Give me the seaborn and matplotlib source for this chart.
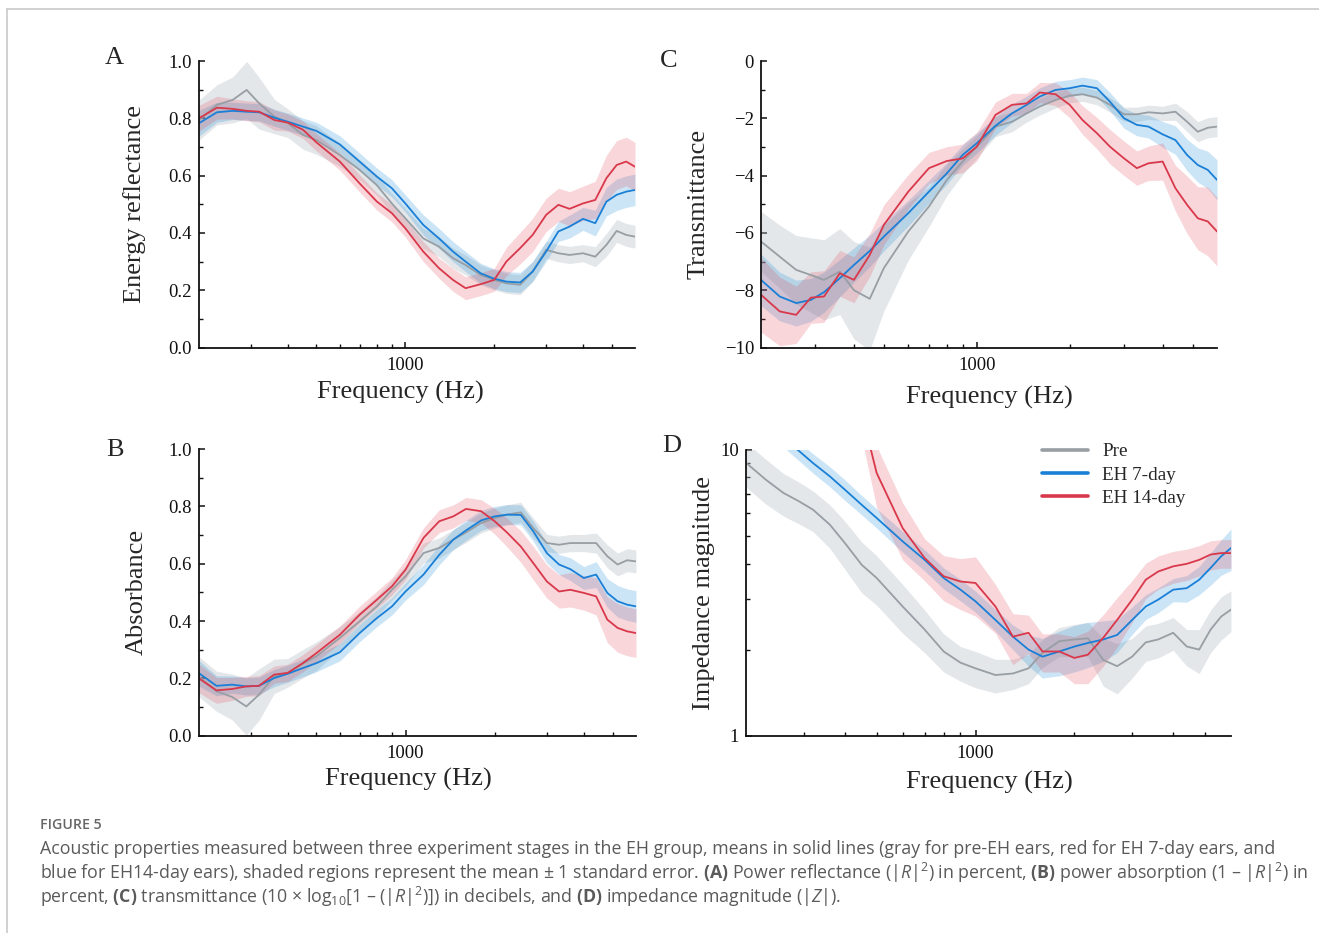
import numpy as np
import pandas as pd
import matplotlib
matplotlib.use("Agg")
import matplotlib.pyplot as plt
import seaborn as sns
from matplotlib.ticker import FixedLocator, NullFormatter
from matplotlib.lines import Line2D

# ---------------- data ----------------
FREQ = [200, 230, 260, 290, 320, 360, 400, 450, 500, 600, 700, 800, 900, 1000,
        1150, 1300, 1450, 1600, 1800, 2000, 2200, 2450, 2700, 3000, 3300, 3600,
        4000, 4400, 4800, 5200, 5600, 6000]

SERIES = ["Pre", "EH 7-day", "EH 14-day"]

# Panel A - energy reflectance
A_PRE = [0.794, 0.847, 0.864, 0.899, 0.852, 0.806, 0.783, 0.742, 0.724, 0.672, 0.620, 0.567,
         0.503, 0.451, 0.381, 0.352, 0.312, 0.288, 0.253, 0.236, 0.224, 0.219, 0.265, 0.341,
         0.329, 0.323, 0.329, 0.317, 0.358, 0.407, 0.393, 0.387]
A_EH7 = [0.783, 0.821, 0.826, 0.823, 0.821, 0.802, 0.788, 0.771, 0.756, 0.709, 0.649, 0.597,
         0.556, 0.503, 0.428, 0.381, 0.335, 0.300, 0.259, 0.240, 0.230, 0.227, 0.265, 0.335,
         0.405, 0.422, 0.449, 0.434, 0.509, 0.533, 0.544, 0.550]
A_EH14 = [0.800, 0.837, 0.833, 0.826, 0.823, 0.794, 0.785, 0.760, 0.716, 0.649, 0.573, 0.510,
          0.469, 0.416, 0.335, 0.277, 0.236, 0.207, 0.221, 0.236, 0.300, 0.347, 0.393, 0.463,
          0.498, 0.484, 0.503, 0.515, 0.591, 0.637, 0.649, 0.631]
A_PRE_SE = [0.07, 0.07, 0.08, 0.10, 0.09, 0.06, 0.05, 0.05, 0.05, 0.04, 0.035, 0.035, 0.035,
            0.035, 0.035, 0.035, 0.035, 0.035, 0.035, 0.035, 0.035, 0.035, 0.035, 0.03, 0.03,
            0.03, 0.03, 0.035, 0.04, 0.04, 0.04, 0.04]
A_EH7_SE = [0.045, 0.035, 0.03, 0.03, 0.03, 0.03, 0.03, 0.03, 0.03, 0.03, 0.03, 0.03, 0.03,
            0.03, 0.035, 0.035, 0.035, 0.035, 0.035, 0.035, 0.035, 0.035, 0.035, 0.035, 0.035,
            0.04, 0.04, 0.045, 0.05, 0.055, 0.055, 0.055]
A_EH14_SE = [0.045, 0.04, 0.035, 0.035, 0.035, 0.035, 0.03, 0.03, 0.03, 0.03, 0.03, 0.03, 0.03,
             0.03, 0.035, 0.035, 0.04, 0.04, 0.04, 0.04, 0.05, 0.055, 0.058, 0.058, 0.058, 0.06,
             0.06, 0.065, 0.08, 0.085, 0.085, 0.085]

# Panel B - absorbance
B_PRE = [0.207, 0.155, 0.135, 0.102, 0.143, 0.207, 0.219, 0.251, 0.277, 0.341, 0.399, 0.451,
         0.509, 0.556, 0.637, 0.655, 0.684, 0.709, 0.742, 0.759, 0.771, 0.779, 0.724, 0.672,
         0.666, 0.672, 0.672, 0.672, 0.626, 0.597, 0.612, 0.608]
B_EH7 = [0.219, 0.174, 0.178, 0.172, 0.174, 0.201, 0.216, 0.236, 0.253, 0.291, 0.358, 0.410,
         0.451, 0.503, 0.562, 0.631, 0.684, 0.716, 0.751, 0.765, 0.771, 0.770, 0.713, 0.637,
         0.597, 0.581, 0.550, 0.562, 0.498, 0.469, 0.457, 0.451]
B_EH14 = [0.201, 0.158, 0.163, 0.172, 0.174, 0.213, 0.219, 0.253, 0.288, 0.352, 0.422, 0.474,
          0.521, 0.579, 0.690, 0.748, 0.765, 0.791, 0.783, 0.748, 0.709, 0.660, 0.602, 0.538,
          0.503, 0.509, 0.498, 0.486, 0.405, 0.376, 0.364, 0.358]
B_PRE_SE = A_PRE_SE
B_EH7_SE = A_EH7_SE
B_EH14_SE = [0.05, 0.045, 0.04, 0.035, 0.035, 0.03, 0.03, 0.03, 0.03, 0.03, 0.03, 0.03, 0.03,
             0.035, 0.035, 0.04, 0.04, 0.04, 0.04, 0.045, 0.05, 0.055, 0.058, 0.058, 0.058,
             0.06, 0.06, 0.065, 0.08, 0.085, 0.085, 0.085]

# Panel C - transmittance (dB)
C_PRE = [-6.30, -6.83, -7.29, -7.47, -7.64, -7.35, -8.00, -8.30, -7.23, -5.95, -5.08, -4.15,
         -3.51, -2.99, -2.29, -2.12, -1.83, -1.59, -1.36, -1.21, -1.16, -1.28, -1.53, -1.86,
         -1.86, -1.79, -1.83, -1.77, -2.12, -2.47, -2.33, -2.29]
C_EH7 = [-7.64, -8.22, -8.45, -8.34, -8.07, -7.58, -7.12, -6.63, -6.13, -5.31, -4.56, -3.92,
         -3.28, -2.87, -2.26, -1.83, -1.53, -1.24, -1.01, -0.95, -0.86, -0.95, -1.42, -2.00,
         -2.23, -2.29, -2.56, -2.76, -3.28, -3.63, -3.80, -4.15]
C_EH14 = [-8.16, -8.74, -8.86, -8.26, -8.22, -7.41, -7.64, -6.77, -5.72, -4.56, -3.74, -3.49,
          -3.40, -2.99, -1.88, -1.53, -1.48, -1.10, -1.16, -1.53, -2.06, -2.52, -2.99, -3.40,
          -3.74, -3.57, -3.51, -4.44, -5.02, -5.49, -5.60, -5.95]
C_PRE_SE = [1.05, 1.1, 1.2, 1.3, 1.4, 1.5, 1.7, 1.8, 1.5, 1.0, 0.7, 0.55, 0.45, 0.4, 0.35, 0.35,
            0.3, 0.3, 0.28, 0.25, 0.25, 0.25, 0.25, 0.25, 0.25, 0.25, 0.25, 0.3, 0.35, 0.35,
            0.35, 0.35]
C_EH7_SE = [0.9, 0.85, 0.8, 0.75, 0.7, 0.65, 0.6, 0.55, 0.5, 0.45, 0.4, 0.38, 0.36, 0.35, 0.33,
            0.32, 0.3, 0.3, 0.3, 0.3, 0.3, 0.3, 0.32, 0.35, 0.38, 0.4, 0.45, 0.5, 0.55, 0.6,
            0.65, 0.7]
C_EH14_SE = [1.3, 1.2, 1.0, 0.9, 0.9, 0.8, 0.8, 0.75, 0.7, 0.6, 0.55, 0.5, 0.5, 0.5, 0.45, 0.4,
             0.35, 0.35, 0.4, 0.45, 0.5, 0.55, 0.6, 0.6, 0.6, 0.6, 0.65, 0.8, 1.0, 1.1, 1.2, 1.2]

# Panel D - impedance magnitude
D_PRE = [9.0, 7.85, 7.06, 6.60, 6.17, 5.47, 4.72, 3.96, 3.56, 2.83, 2.35, 1.97, 1.80, 1.72,
         1.63, 1.65, 1.72, 1.95, 2.14, 2.17, 2.19, 1.84, 1.75, 1.89, 2.12, 2.17, 2.29, 2.05,
         2.00, 2.35, 2.61, 2.76]
D_EH7 = [14.0, 12.3, 11.0, 9.9, 8.98, 8.07, 7.25, 6.42, 5.77, 4.78, 4.12, 3.56, 3.24, 2.95,
         2.54, 2.22, 2.00, 1.89, 1.97, 2.05, 2.11, 2.17, 2.25, 2.54, 2.83, 2.99, 3.24, 3.28,
         3.51, 3.86, 4.24, 4.53]
D_EH14 = [40.0, 38.0, 35.0, 32.0, 29.0, 25.0, 20.0, 13.5, 8.29, 5.32, 4.18, 3.61, 3.46, 3.42,
          2.83, 2.22, 2.29, 1.97, 1.97, 1.87, 1.92, 2.20, 2.54, 2.99, 3.51, 3.75, 3.91, 3.99,
          4.12, 4.30, 4.35, 4.35]
D_PRE_SE = [1.6, 1.4, 1.2, 1.1, 1.0, 0.95, 0.9, 0.8, 0.7, 0.55, 0.4, 0.3, 0.25, 0.25, 0.22,
            0.2, 0.2, 0.22, 0.25, 0.28, 0.3, 0.35, 0.35, 0.3, 0.3, 0.3, 0.3, 0.3, 0.35, 0.4,
            0.45, 0.45]
D_EH7_SE = [1.0, 0.9, 0.8, 0.75, 0.7, 0.65, 0.6, 0.5, 0.45, 0.4, 0.35, 0.3, 0.28, 0.25, 0.22,
            0.22, 0.25, 0.3, 0.35, 0.38, 0.38, 0.35, 0.3, 0.28, 0.28, 0.3, 0.3, 0.35, 0.4, 0.5,
            0.6, 0.75]
D_EH14_SE = [3, 3, 3, 3, 3, 3, 3, 2.5, 2.0, 1.2, 0.7, 0.65, 0.7, 0.8, 0.55, 0.45, 0.35, 0.3,
             0.3, 0.35, 0.4, 0.45, 0.5, 0.5, 0.5, 0.5, 0.5, 0.5, 0.5, 0.5, 0.5, 0.5]

# ---------------- style ----------------
LINE_COLORS = {"Pre": "#979ea4", "EH 7-day": "#1a7fd6", "EH 14-day": "#d9384b"}
BAND_COLORS = {"Pre": ("#b4bfc6", 0.36), "EH 7-day": ("#1a8ad6", 0.22), "EH 14-day": ("#e0485a", 0.22)}

sns.set_style("ticks")
plt.rcParams["font.family"] = ["Liberation Serif", "DejaVu Serif"]
plt.rcParams["mathtext.fontset"] = "custom"
plt.rcParams["mathtext.rm"] = "Open Sans"
plt.rcParams["mathtext.it"] = "Open Sans:italic"
plt.rcParams["mathtext.bf"] = "Open Sans:bold"

W, H = 1319, 933
fig = plt.figure(figsize=(W / 100, H / 100), dpi=100)


def add_axes(left, right, top, bottom):
    return fig.add_axes([left / W, 1 - bottom / H, (right - left) / W, (bottom - top) / H])


axA = add_axes(199, 635, 61, 347.5)
axC = add_axes(761, 1217, 61, 347.5)
axB = add_axes(198.5, 636, 449, 735.7)
axD = add_axes(746, 1231, 449.7, 735.7)


def draw(ax, data):
    for name, (mean, se) in zip(SERIES, data):
        mean = np.asarray(mean, float)
        se = np.asarray(se, float)
        bc, ba = BAND_COLORS[name]
        ax.fill_between(FREQ, mean - se, mean + se, color=bc, alpha=ba, lw=0, zorder=1)
        df = pd.DataFrame({"Frequency": FREQ, "value": mean})
        sns.lineplot(data=df, x="Frequency", y="value", ax=ax, color=LINE_COLORS[name],
                     lw=1.3, zorder=2, label=name, legend=False)


draw(axA, [(A_PRE, A_PRE_SE), (A_EH7, A_EH7_SE), (A_EH14, A_EH14_SE)])
draw(axB, [(B_PRE, B_PRE_SE), (B_EH7, B_EH7_SE), (B_EH14, B_EH14_SE)])
draw(axC, [(C_PRE, C_PRE_SE), (C_EH7, C_EH7_SE), (C_EH14, C_EH14_SE)])
draw(axD, [(D_PRE, D_PRE_SE), (D_EH7, D_EH7_SE), (D_EH14, D_EH14_SE)])

MINOR_X = [300, 400, 500, 600, 700, 800, 900, 2000, 3000, 4000, 5000]

for ax in (axA, axB, axC, axD):
    ax.set_xscale("log")
    ax.set_xlim(200, 6000)
    ax.set_xticks([1000])
    ax.set_xticklabels(["1000"])
    ax.xaxis.set_minor_locator(FixedLocator(MINOR_X))
    ax.xaxis.set_minor_formatter(NullFormatter())
    for s in ("top", "right"):
        ax.spines[s].set_visible(False)
    for s in ("left", "bottom"):
        ax.spines[s].set_linewidth(1.3)
        ax.spines[s].set_color("#111111")
    ax.tick_params(which="major", direction="in", length=4.5, width=1.1, labelsize=13.5,
                   pad=5, colors="#111111")
    ax.tick_params(axis="x", which="major", pad=6.5)
    ax.tick_params(which="minor", direction="in", length=2.6, width=1.0, colors="#111111")
    ax.set_xlabel("Frequency (Hz)", fontsize=19)

for ax in (axA, axB):
    ax.set_ylim(0, 1.0)
    ax.set_yticks([0.0, 0.2, 0.4, 0.6, 0.8, 1.0])
    ax.set_yticklabels(["0.0", "0.2", "0.4", "0.6", "0.8", "1.0"])
    ax.yaxis.set_minor_locator(FixedLocator([0.1, 0.3, 0.5, 0.7, 0.9]))

axC.set_ylim(-10, 0)
axC.set_yticks([-10, -8, -6, -4, -2, 0])
axC.set_yticklabels(["\u221210", "\u22128", "\u22126", "\u22124", "\u22122", "0"])
axC.yaxis.set_minor_locator(FixedLocator([-9, -7, -5, -3, -1]))

axD.set_yscale("log")
axD.set_ylim(1, 10)
axD.set_yticks([1, 10])
axD.set_yticklabels(["1", "10"])
axD.yaxis.set_minor_locator(FixedLocator([2, 3, 4, 5, 6, 7, 8, 9]))
axD.yaxis.set_minor_formatter(NullFormatter())

axA.set_ylabel("Energy reflectance", fontsize=19)
axB.set_ylabel("Absorbance", fontsize=19)
axC.set_ylabel("Transmittance", fontsize=19)
axD.set_ylabel("Impedance magnitude", fontsize=19)

axA.yaxis.set_label_coords(-0.122, 0.5)
axB.yaxis.set_label_coords(-0.115, 0.5)
axC.yaxis.set_label_coords(-0.112, 0.5)
axD.yaxis.set_label_coords(-0.064, 0.5)
axA.xaxis.set_label_coords(0.461, -0.117)
axB.xaxis.set_label_coords(0.48, -0.112)
axC.xaxis.set_label_coords(0.5, -0.134)
axD.xaxis.set_label_coords(0.501, -0.123)

# panel letters
for letter, (x, y) in {"A": (114, 58), "B": (115, 450), "C": (669, 61), "D": (672, 446)}.items():
    fig.text(x / W, 1 - y / H, letter, fontsize=19, ha="center", va="center")

# legend
handles = [Line2D([0], [0], color=LINE_COLORS[n], lw=2.6) for n in SERIES]
axD.legend(handles, SERIES, loc="upper left", bbox_to_anchor=(1042 / W, 1 - 443 / H),
           bbox_transform=fig.transFigure, frameon=False, fontsize=13.8,
           handlelength=2.4, handletextpad=0.75, labelspacing=0.3, borderpad=0,
           borderaxespad=0)

# frame lines of the page
fig.add_artist(Line2D([7 / W, 1], [1 - 8.5 / H, 1 - 8.5 / H], color="#c9c9c9", lw=1.2))
fig.add_artist(Line2D([7 / W, 7 / W], [0, 1 - 8.5 / H], color="#c9c9c9", lw=1.2))

# caption
cap_font = ["Open Sans", "DejaVu Sans"]
fig.text(40 / W, 1 - 825 / H, "FIGURE 5", fontsize=10.2, color="#666666", family=cap_font,
         ha="left", va="center", fontweight="semibold")
R2 = "|$\\mathit{R}$|$^{2}$"
lines = [
    "Acoustic properties measured between three experiment stages in the EH group, means in solid lines "
    "(gray for pre-EH ears, red for EH 7-day ears, and",
    "blue for EH14-day ears), shaded regions represent the mean \u00b1 1 standard error. "
    "$\\mathbf{(A)}$ Power reflectance (" + R2 + ") in percent, "
    "$\\mathbf{(B)}$ power absorption (1 \u2013 " + R2 + ") in",
    "percent, $\\mathbf{(C)}$ transmittance (10 \u00d7 log$_{10}$[1 \u2013 (" + R2 + ")]) "
    "in decibels, and $\\mathbf{(D)}$ impedance magnitude (|$\\mathit{Z}$|).",
]
for i, t in enumerate(lines):
    fig.text(40 / W, 1 - (849 + 24 * i) / H, t, fontsize=12.75, color="#5a5a5a",
             family=cap_font, ha="left", va="center")

fig.savefig("out.png", dpi=100)
